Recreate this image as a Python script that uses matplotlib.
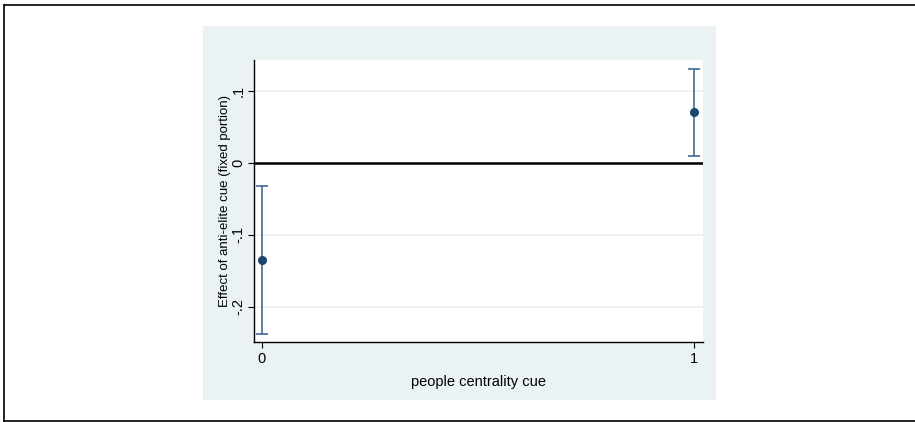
import matplotlib
matplotlib.use("Agg")
import matplotlib.pyplot as plt
from matplotlib.patches import Rectangle
from matplotlib.lines import Line2D

plt.rcParams['font.family'] = ['Liberation Sans', 'DejaVu Sans']

# marginal effects of the anti-elite cue with 95% CIs
people_cue = [0, 1]
effect = [-0.135, 0.070]
ci_low = [-0.238, 0.0093]
ci_high = [-0.032, 0.1306]
ytick_vals = [-0.2, -0.1, 0, 0.1]
ytick_labels = ['-.2', '-.1', '0', '.1']

W, H = 915, 422
fig = plt.figure(figsize=(W / 100, H / 100), dpi=100)
fig.patch.set_facecolor('white')

def fx(px):
    return px / W

def fy(py):
    return 1 - py / H

# outer frame
for xs, ys in [([3.5, 3.5], [4.5, 420.5]), ([3.5, 915], [4.5, 4.5]), ([3.5, 915], [420.5, 420.5])]:
    fig.add_artist(Line2D([fx(x) for x in xs], [fy(y) for y in ys], color='black', lw=1.2))

# graph region
fig.add_artist(Rectangle((fx(203), fy(400)), fx(716 - 203), (400 - 26) / H,
                         facecolor='#eaf2f3', edgecolor='none', zorder=0))

ax = fig.add_axes([fx(254), fy(342), fx(703 - 254), (342 - 60) / H])
ax.set_facecolor('white')

navy = '#1a476f'
yerr = [[e - lo for e, lo in zip(effect, ci_low)], [hi - e for e, hi in zip(effect, ci_high)]]
ax.errorbar(people_cue, effect, yerr=yerr, fmt='o', color=navy, ecolor='#3f6b93',
            elinewidth=1.2, capsize=4, capthick=1.2, markersize=5.5, zorder=4)
ax.axhline(0, color='black', lw=1.8, zorder=3)

ax.set_xlim(-0.0185, 1.020)
ax.set_ylim(-0.249, 0.1426)
ax.set_xticks(people_cue)
ax.set_xticklabels(['0', '1'])
ax.set_yticks(ytick_vals)
ax.set_yticklabels(ytick_labels, rotation=90, va='center')
ax.grid(axis='y', color='#eaf2f3', lw=1.2, zorder=0)
ax.set_axisbelow(True)

for side in ['top', 'right']:
    ax.spines[side].set_visible(False)
for side in ['left', 'bottom']:
    ax.spines[side].set_color('black')
    ax.spines[side].set_linewidth(1.0)
ax.tick_params(axis='both', direction='out', length=4, width=0.8, labelsize=10.5, pad=2)
ax.tick_params(axis='x', pad=3)

ax.set_xlabel('people centrality cue', fontsize=10.5, labelpad=7)
ax.set_ylabel('Effect of anti-elite cue (fixed portion)', fontsize=9.5, va='center')
ax.yaxis.set_label_coords(-29 / 449, 0.5)

fig.savefig('out.png', dpi=100)
